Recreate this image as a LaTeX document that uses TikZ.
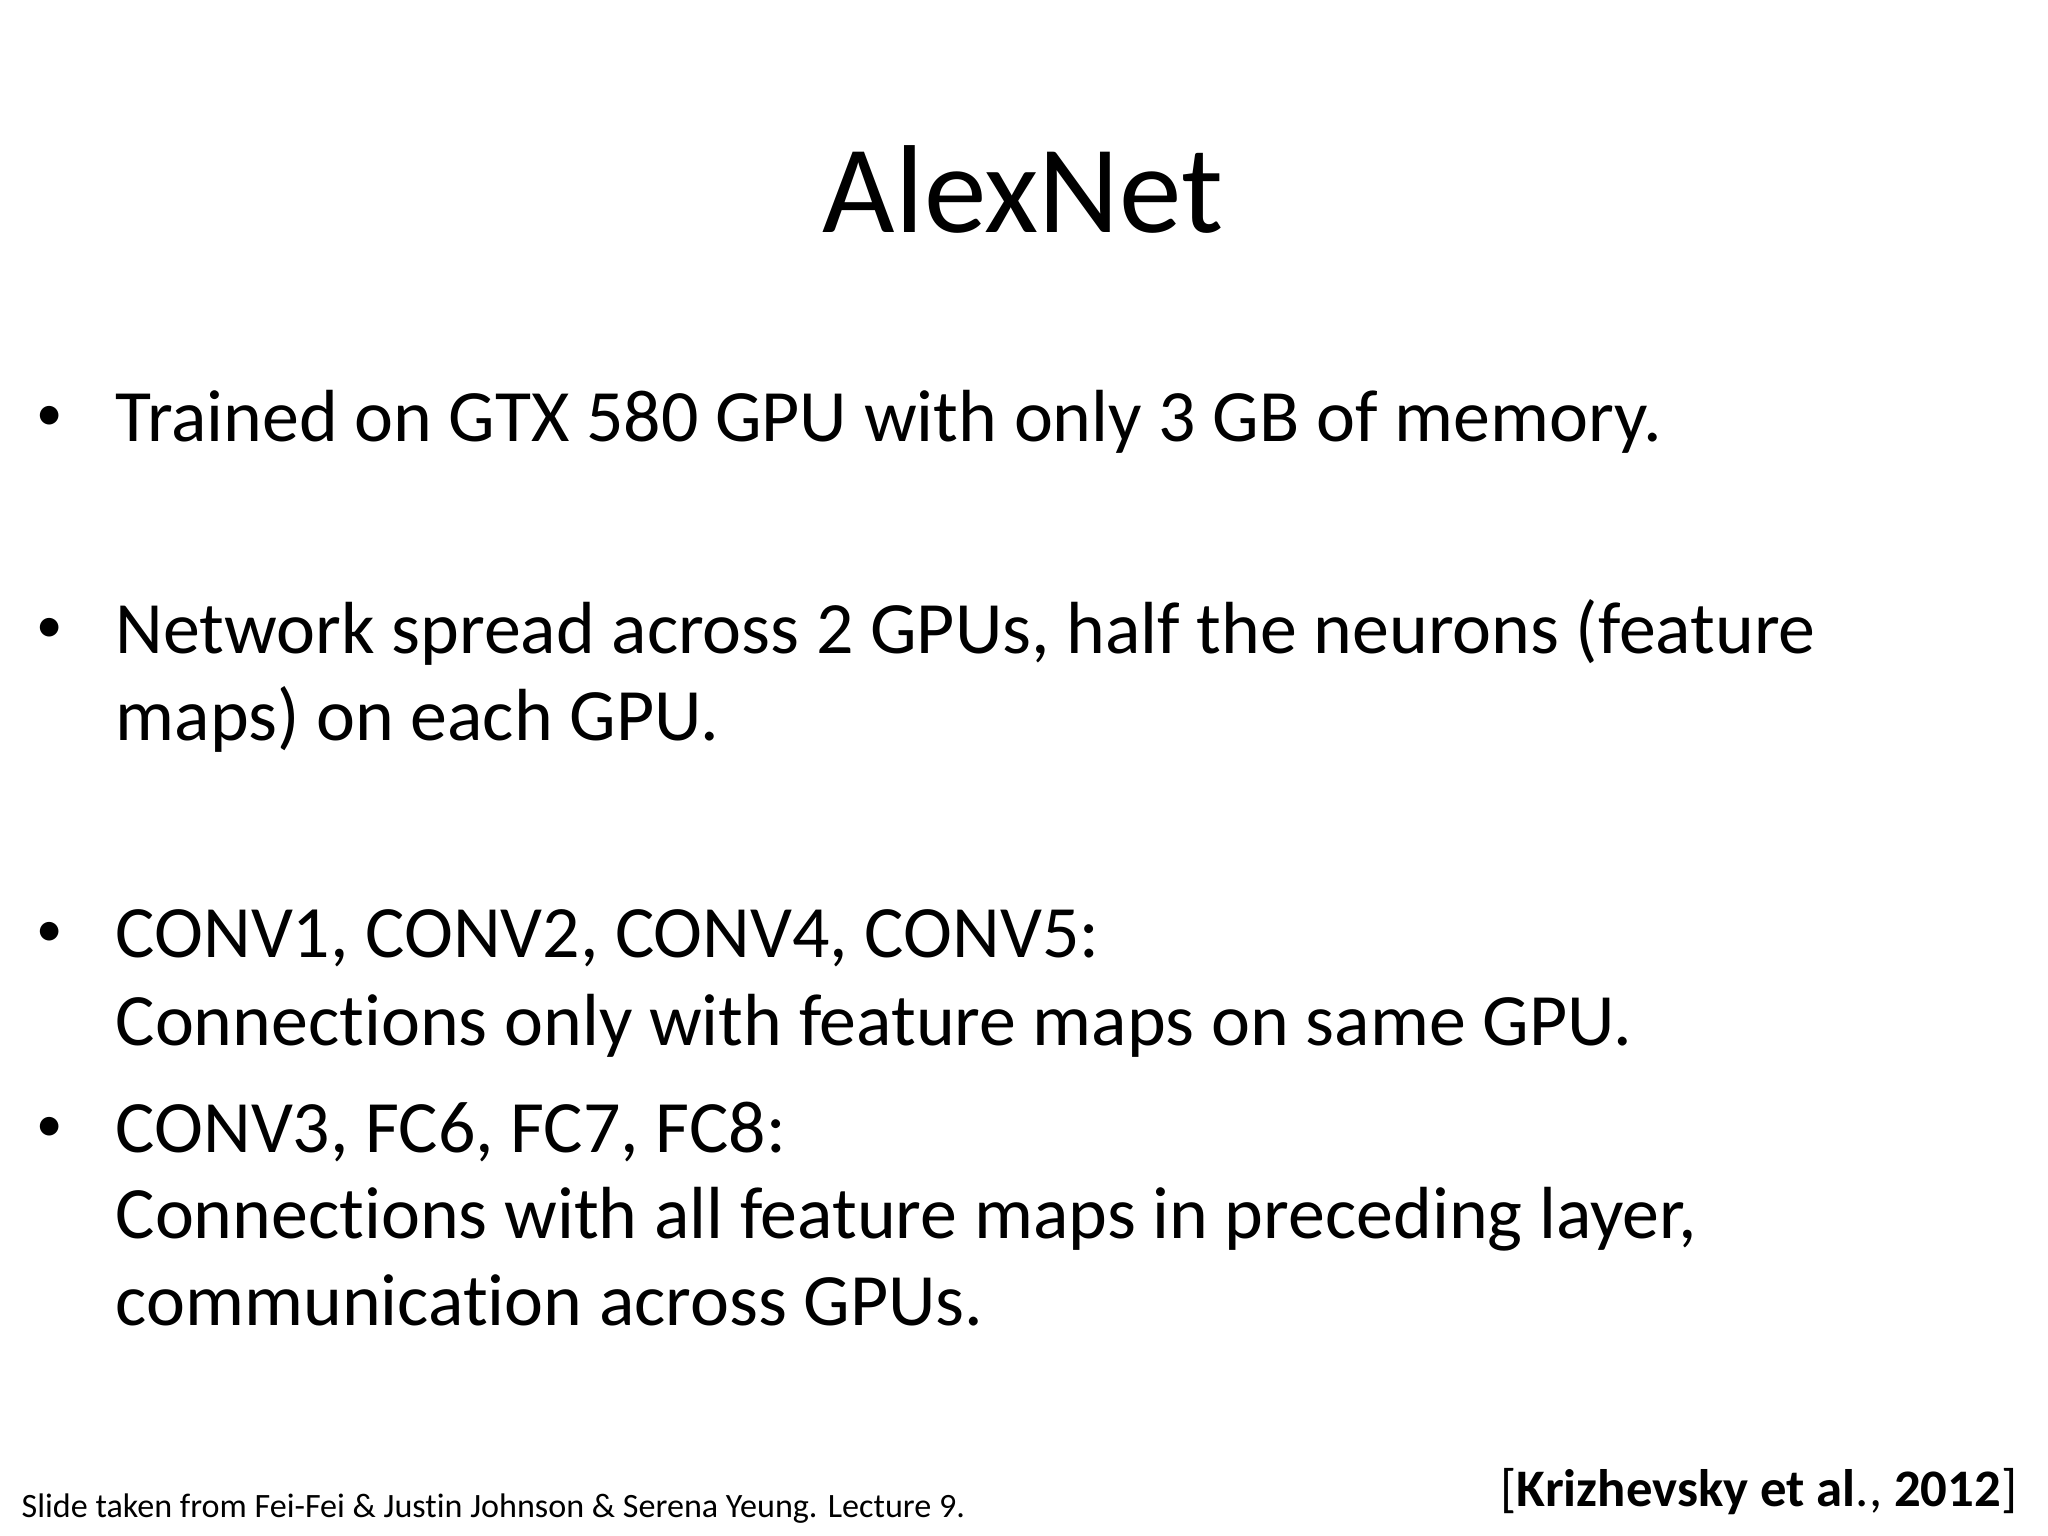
\documentclass[tikz,border=0pt]{standalone}
\usepackage{fontspec}
\setmainfont[Ligatures=NoCommon]{Carlito}
\begin{document}
\begin{tikzpicture}[x=0.01cm,y=-0.01cm,
  body/.style={anchor=base west,inner sep=0,font=\fontsize{21}{26}\selectfont},
  bul/.style={anchor=base,inner sep=0,font=\fontsize{15}{18}\selectfont}]
\useasboundingbox[fill=white] (0,0) rectangle (2048,1536);
\node[anchor=base,inner sep=0,font=\fontsize{35.6}{42}\selectfont] (title) at (1023,232) {AlexNet};
\node[bul] (b1) at (50,430) {•};
\node[body] (t1) at (115,441) {Trained on GTX 580 GPU with only 3 GB of memory.};
\node[bul] (b2) at (50,642) {•};
\node[body] (t2a) at (115,653) {Network spread across 2 GPUs, half the neurons (feature};
\node[body] (t2b) at (115,740) {maps) on each GPU.};
\node[bul] (b3) at (50,946) {•};
\node[body] (t3a) at (115,957) {CONV1, CONV2, CONV4, CONV5:};
\node[body] (t3b) at (115,1045) {Connections only with feature maps on same GPU.};
\node[bul] (b4) at (50,1141) {•};
\node[body] (t4a) at (115,1152) {CONV3, FC6, FC7, FC8:};
\node[body] (t4b) at (115,1238) {Connections with all feature maps in preceding layer,};
\node[body] (t4c) at (115,1325) {communication across GPUs.};
\node[anchor=base west,inner sep=0,font=\fontsize{9.7}{11}\selectfont] (foot) at (21,1517) {Slide taken from Fei-Fei \& Justin Johnson \& Serena Yeung. Lecture 9.};
\node[anchor=base east,inner sep=0,font=\fontsize{15}{18}\selectfont] (cite) at (2018,1506) {[\textbf{Krizhevsky et al}., \textbf{2012}]};
\end{tikzpicture}
\end{document}
